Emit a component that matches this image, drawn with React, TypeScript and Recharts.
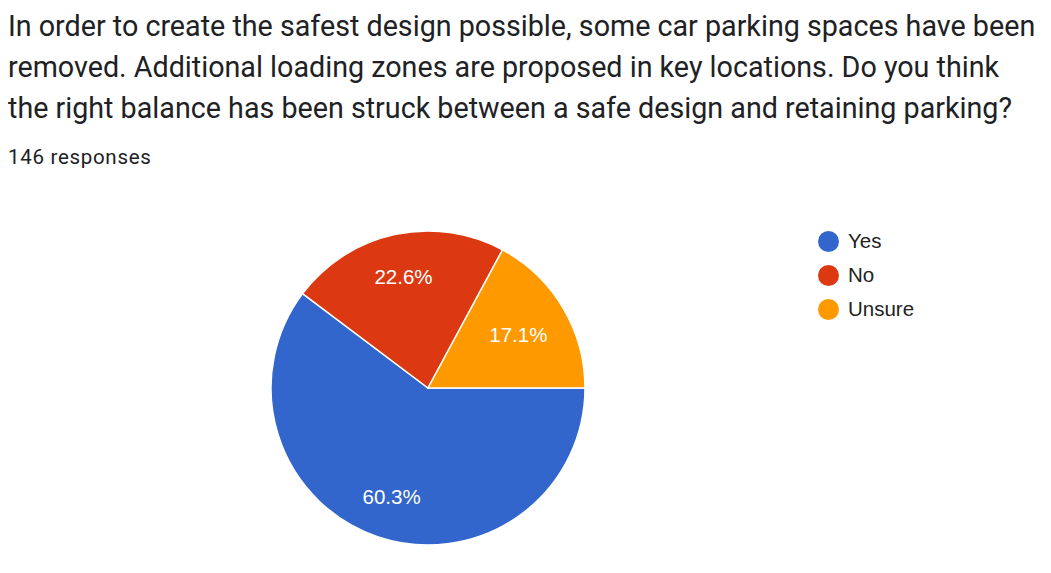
import { PieChart, Pie, Cell, Legend } from 'recharts';

const categories = ['Yes', 'No', 'Unsure'];
const responses = [88, 33, 25];
const colors = ['#3366cc', '#dc3912', '#ff9900'];

const titleLines = [
  'In order to create the safest design possible, some car parking spaces have been',
  'removed. Additional loading zones are proposed in key locations. Do you think',
  'the right balance has been struck between a safe design and retaining parking?',
];
const subtitle = '146 responses';

const RAD = Math.PI / 180;

const renderLabel = (props: any) => {
  const { cx, cy, midAngle, outerRadius, percent } = props;
  // small slices sit a bit closer to the centre, like Google's pie
  const r = outerRadius * (percent < 0.2 ? 0.67 : 0.73);
  const x = cx + r * Math.cos(-midAngle * RAD);
  const y = cy + r * Math.sin(-midAngle * RAD);
  return (
    <text
      x={x}
      y={y}
      fill="#ffffff"
      textAnchor="middle"
      dominantBaseline="central"
      fontFamily="Arial, 'Liberation Sans', sans-serif"
      fontSize={20.5}
    >
      {(percent * 100).toFixed(1)}%
    </text>
  );
};

const renderLegend = () => (
  <div style={{ fontFamily: "Arial, 'Liberation Sans', sans-serif", fontSize: 20.5, color: '#222' }}>
    {categories.map((c, i) => (
      <div key={c} style={{ display: 'flex', alignItems: 'center', height: 34 }}>
        <span
          style={{
            width: 21,
            height: 21,
            borderRadius: 11,
            background: colors[i],
            display: 'inline-block',
            marginRight: 9,
          }}
        />
        {c}
      </div>
    ))}
  </div>
);

export default function App() {
  const data = categories.map((name, i) => ({ name, value: responses[i] }));

  return (
    <div
      style={{
        position: 'absolute',
        left: 0,
        top: 0,
        width: 1051,
        height: 573,
        background: '#fff',
        overflow: 'hidden',
      }}
    >
      <div
        style={{
          position: 'absolute',
          left: 8,
          top: 6,
          fontFamily: 'Roboto, sans-serif',
          fontSize: 28.7,
          lineHeight: '41px',
          color: '#202124',
          whiteSpace: 'nowrap',
        }}
      >
        {titleLines.map((l) => (
          <div key={l}>{l}</div>
        ))}
      </div>
      <div
        style={{
          position: 'absolute',
          left: 8,
          top: 145,
          fontFamily: 'Roboto, sans-serif',
          fontSize: 20.5,
          color: '#202124',
          letterSpacing: 0.7,
        }}
      >
        {subtitle}
      </div>
      <div style={{ position: 'absolute', left: 0, top: 0 }}>
        <PieChart width={1051} height={573}>
          <Pie
            data={data}
            dataKey="value"
            nameKey="name"
            cx={423}
            cy={383}
            outerRadius={157}
            startAngle={0}
            endAngle={-360}
            stroke="#ffffff"
            strokeWidth={1.5}
            label={renderLabel}
            labelLine={false}
            isAnimationActive={false}
          >
            {data.map((entry, index) => (
              <Cell key={`cell-${index}`} fill={colors[index]} />
            ))}
          </Pie>
          <Legend
            layout="vertical"
            content={renderLegend}
            wrapperStyle={{ position: 'absolute', left: 818, top: 224, width: 150 }}
          />
        </PieChart>
      </div>
    </div>
  );
}
